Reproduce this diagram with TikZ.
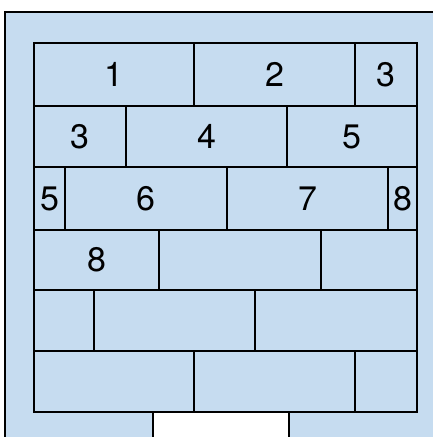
\documentclass[tikz,border=0pt]{standalone}
\usepackage{fontspec}
\setmainfont{TeX Gyre Heros}
\usepackage{xcolor}
\usepackage{tikz}
\definecolor{wallblue}{RGB}{198,220,240}

\begin{document}
\begin{tikzpicture}[x=1pt, y=-1pt,
  wall/.style={fill=wallblue},
  edge/.style={draw=black, line width=2pt},
  brick/.style={draw=black, line width=2pt, fill=wallblue, rectangle,
                inner sep=0pt, anchor=north west, font=\fontsize{34}{40}\selectfont}]
  \useasboundingbox (0,0) rectangle (433,437);
  % wall and doorway
  \fill[wall] (5,12) rectangle (440,445);
  \draw[edge] (5,440) -- (5,12) -- (440,12);
  \fill[white] (153,411) rectangle (289,445);
  \coordinate (doorL) at (153,411);
  \coordinate (doorR) at (289,411);
  \draw[edge] (doorL) -- (153,440);
  \draw[edge] (doorR) -- (289,440);
  % bricks
  \foreach \n/\xa/\xb/\ya/\yb/\txt in {
      1/33/193/42/105/1, 2/193/354/42/105/2, 3/354/416/42/105/3,
      4/33/125/105/166/3, 5/125/286/105/166/4, 6/286/416/105/166/5,
      7/33/64/166/229/5, 8/64/226/166/229/6, 9/226/387/166/229/7, 10/387/416/166/229/8,
      11/33/158/229/289/8, 12/158/320/229/289/{}, 13/320/416/229/289/{},
      14/33/93/289/350/{}, 15/93/254/289/350/{}, 16/254/416/289/350/{},
      17/33/193/350/411/{}, 18/193/354/350/411/{}, 19/354/416/350/411/{}} {
    \pgfmathsetmacro\w{\xb-\xa}
    \pgfmathsetmacro\h{\yb-\ya}
    \node[brick, minimum width=\w pt, minimum height=\h pt] (b\n) at (\xa,\ya) {\txt};
  }
\end{tikzpicture}
\end{document}
